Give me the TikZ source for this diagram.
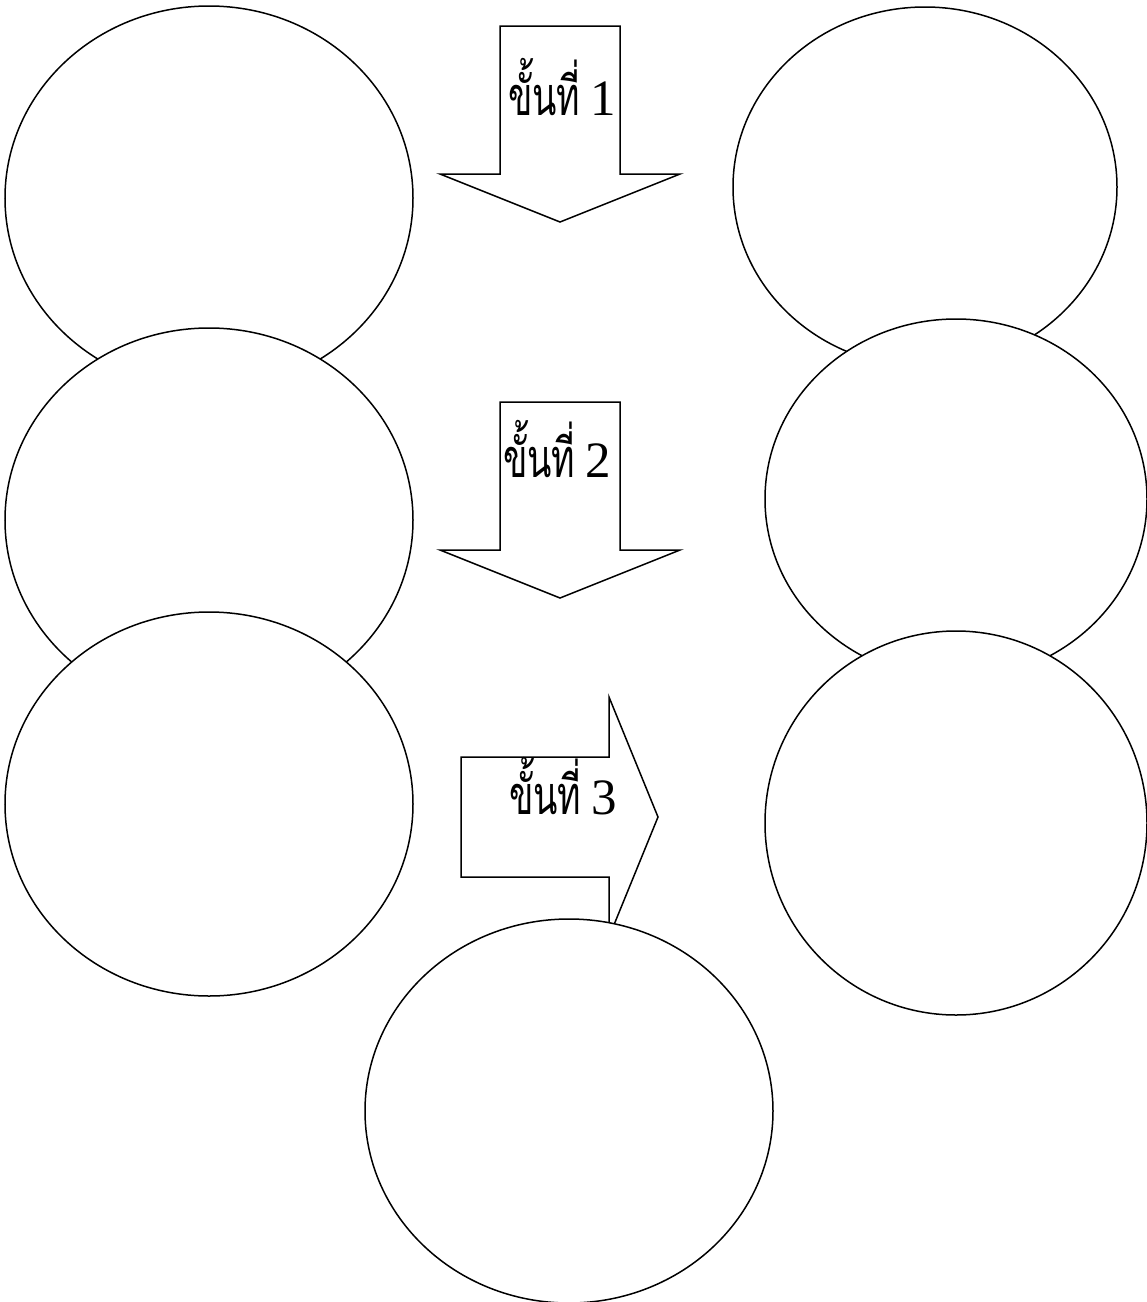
\documentclass[tikz,border=0pt]{standalone}
\usepackage{fontspec}
\setmainfont{Liberation Serif}
\newfontfamily\thaifont[Script=Thai,FakeStretch=0.66]{Loma}
\usetikzlibrary{shapes.geometric}
\newcommand{\thaiword}[1]{{\fontsize{54}{60}\thaifont #1}}
\tikzset{
  blob/.style={ellipse, draw=black, fill=white, line width=1.5pt, inner sep=0pt},
  bigarrow/.style={draw=black, fill=white, line width=1.5pt, line join=miter},
  steplabel/.style={inner sep=0pt, anchor=base west, font=\fontsize{51}{56}\selectfont}
}
\begin{document}
\begin{tikzpicture}[x=1pt,y=-1pt]
\useasboundingbox (0,0) rectangle (1147,1302);
% left column
\node[blob, minimum width=408pt, minimum height=384pt] (e1) at (209,198) {};
\node[blob, minimum width=408pt, minimum height=384pt] (e2) at (209,520) {};
\node[blob, minimum width=408pt, minimum height=384pt] (e3) at (209,804) {};
% right column
\node[blob, minimum width=384pt, minimum height=360pt] (e4) at (925,187) {};
\node[blob, minimum width=382pt, minimum height=360pt] (e5) at (956,499) {};
\node[blob, minimum width=382pt, minimum height=384pt] (e6) at (956,823) {};
% arrows
\draw[bigarrow] (500,26) -- (620,26) -- (620,174) -- (680,174) -- (560,222) -- (440,174) -- (500,174) -- cycle;
\draw[bigarrow] (500,402) -- (620,402) -- (620,550) -- (680,550) -- (560,598) -- (440,550) -- (500,550) -- cycle;
\draw[bigarrow] (461,757) -- (609,757) -- (609,697) -- (658,817) -- (609,937) -- (609,877) -- (461,877) -- cycle;
\node[steplabel] (t1) at (508,115) {\thaiword{ขั้นที่}\hspace{-3pt} 1};
\node[steplabel] (t2) at (503,477) {\thaiword{ขั้นที่}\hspace{-3pt} 2};
\node[steplabel] (t3) at (509,814) {\thaiword{ขั้นที่}\hspace{-3pt} 3};
% bottom
\node[blob, minimum width=408pt, minimum height=384pt] (e7) at (569,1111) {};
\end{tikzpicture}
\end{document}
